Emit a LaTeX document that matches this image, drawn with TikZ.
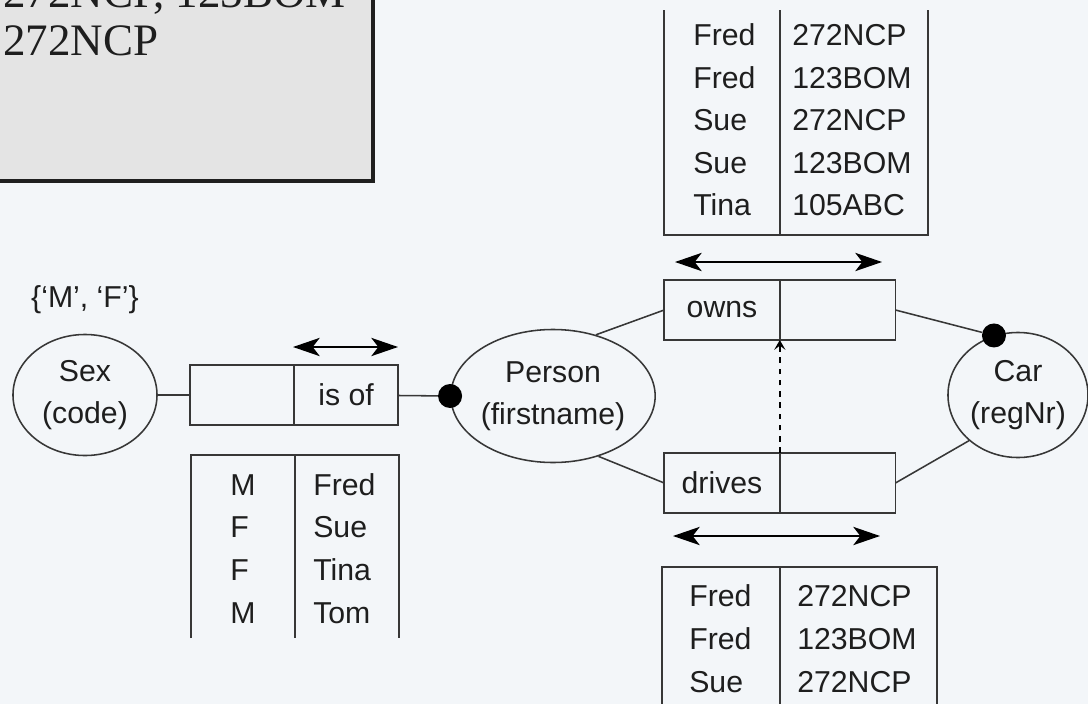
\documentclass[tikz,border=0pt]{standalone}
\usepackage{fontspec}
\setmainfont{Liberation Sans}
\newfontfamily\notefont{Liberation Serif}
\usepackage{xcolor}
\usetikzlibrary{shapes.geometric,arrows.meta,positioning}

\definecolor{bgcol}{RGB}{243,246,249}
\definecolor{linecol}{RGB}{55,55,55}
\definecolor{txtcol}{RGB}{30,30,30}
\definecolor{notefill}{RGB}{228,228,228}

\tikzset{
  entity/.style={ellipse,draw=linecol,line width=1.1pt,inner sep=0pt,align=center},
  rolebox/.style={rectangle,draw=linecol,line width=1.2pt,inner sep=0pt,outer sep=0pt,minimum height=1.5cm},
  conn/.style={draw=linecol,line width=1.1pt},
  uniq/.style={line width=1.2pt,{Stealth[length=19pt,width=13pt,inset=5pt]}-{Stealth[length=19pt,width=13pt,inset=5pt]}},
  subset/.style={dash pattern=on 4pt off 4pt,line width=1pt,black,-{Stealth[length=7pt,width=8pt,inset=3pt]}},
  dot/.style={circle,fill=black,inner sep=0pt,minimum size=0.6cm},
  cell/.style={inner sep=0pt,anchor=base west},
  tabline/.style={linecol,line width=1.2pt},
}

\begin{document}
\begin{tikzpicture}[x=0.025cm,y=-0.025cm,font=\fontsize{21.5}{30}\selectfont,text=txtcol]

\fill[bgcol] (0,0) rectangle (1088,704);
\useasboundingbox (0,0) rectangle (1088,704);
\clip (0,0) rectangle (1088,704);

% population note, cut off at the top left
\filldraw[fill=notefill,draw=black!88,line width=2.2pt] (-30,-30) rectangle (373,181);
\node[cell,font=\notefont\fontsize{32}{34}\selectfont] (note1) at (3,7) {272NCP, 123BOM};
\node[cell,font=\notefont\fontsize{32}{34}\selectfont] (note2) at (3,55) {272NCP};

% entity types
\node[entity,minimum width=3.6cm,minimum height=3.025cm] (sex) at (85,395) {Sex\\(code)};
\node[entity,minimum width=4.8cm,minimum height=3.325cm] (person) at (553,396) {Person\\(firstname)};
\node[entity,minimum width=3.5cm,minimum height=3.125cm] (car) at (1018,395) {Car\\(regNr)};
\node (sexdom) at (85,300) {\{‘M’, ‘F’\}};

% fact types
\node[rolebox,minimum width=2.6cm] (isofA) at (242,395) {};
\node[rolebox,minimum width=2.6cm,right=0pt of isofA] (isofB) {is of};
\node[rolebox,minimum width=2.89cm] (ownsA) at (722,310) {owns};
\node[rolebox,minimum width=2.89cm,right=0pt of ownsA] (ownsB) {};
\node[rolebox,minimum width=2.89cm] (drivesA) at (722,483) {drives};
\node[rolebox,minimum width=2.89cm,right=0pt of drivesA] (drivesB) {};

% mandatory dots
\node[dot] (pdot) at (person.west) {};
\node[dot] (cdot) at (car.112) {};

% role connectors
\draw[conn] (sex) -- (isofA);
\draw[conn] (isofB) -- (pdot);
\draw[conn] (person.55) -- (ownsA.west);
\draw[conn] (person.-53) -- (drivesA.west);
\draw[conn] (ownsB.east) -- (cdot);
\draw[conn] (drivesB.east) -- (car.223);

% subset constraint
\draw[subset] (drivesA.north east) -- (ownsA.south east);

% uniqueness constraints
\coordinate (isofU1) at (293,347);
\coordinate (isofU2) at (398,347);
\coordinate (ownsU1) at (675,262);
\coordinate (ownsU2) at (882,262);
\coordinate (drivesU1) at (673,536);
\coordinate (drivesU2) at (880,536);
\draw[uniq] (isofU1) -- (isofU2);
\draw[uniq] (ownsU1) -- (ownsU2);
\draw[uniq] (drivesU1) -- (drivesU2);

% sample populations
\draw[tabline] (664,10) -- (664,235) -- (928,235) -- (928,10);
\draw[tabline] (780,10) -- (780,235);
\foreach \who/\reg [count=\i from 0] in {Fred/272NCP,Fred/123BOM,Sue/272NCP,Sue/123BOM,Tina/105ABC} {
  \node[cell] (ownsL\i) at (693,{45.5+42.5*\i}) {\who};
  \node[cell] (ownsR\i) at (792,{45.5+42.5*\i}) {\reg};
}

\draw[tabline] (191,638) -- (191,455) -- (399,455) -- (399,638);
\draw[tabline] (295,455) -- (295,638);
\foreach \code/\who [count=\i from 0] in {M/Fred,F/Sue,F/Tina,M/Tom} {
  \node[cell] (isofL\i) at (230,{495+42.7*\i}) {\code};
  \node[cell] (isofR\i) at (313,{495+42.7*\i}) {\who};
}

\draw[tabline] (662,710) -- (662,567) -- (937,567) -- (937,710);
\draw[tabline] (780,567) -- (780,710);
\foreach \who/\reg [count=\i from 0] in {Fred/272NCP,Fred/123BOM,Sue/272NCP} {
  \node[cell] (drivesL\i) at (689,{606+43*\i}) {\who};
  \node[cell] (drivesR\i) at (797,{606+43*\i}) {\reg};
}

\end{tikzpicture}
\end{document}
